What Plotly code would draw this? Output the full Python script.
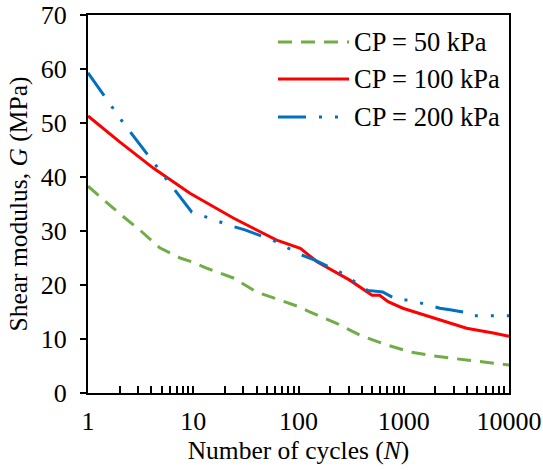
import plotly.graph_objects as go

# Shear modulus G (MPa) versus number of loading cycles N
n_50 = [1, 1.5, 2, 3.1, 4.8, 7.5, 10, 13.5, 24, 40, 62, 100, 128, 230, 385, 690, 1150, 2050, 3950, 7800, 10000]
g_50 = [38.3, 35.3, 33.2, 30.2, 26.9, 25.0, 24.2, 23.1, 21.3, 18.7, 17.4, 16.0, 15.0, 12.9, 10.7, 8.9, 7.6, 6.8, 6.1, 5.4, 5.2]

n_100 = [1, 2, 4.2, 9.3, 24, 62, 104, 150, 307, 500, 590, 710, 980, 1900, 3950, 7100, 10000]
g_100 = [51.3, 46.5, 41.6, 37.0, 32.4, 28.3, 26.8, 24.3, 20.9, 18.1, 18.1, 16.9, 15.7, 13.9, 12.0, 11.1, 10.5]

n_200 = [1, 1.45, 2.15, 3.9, 5.9, 9.7, 11.6, 22.4, 31, 57, 106, 143, 248, 455, 630, 880, 1150, 2200, 2750, 4240, 4500, 10000]
g_200 = [59.3, 54.9, 50.1, 43.5, 38.9, 33.5, 33.0, 31.0, 30.2, 28.3, 25.6, 24.6, 22.4, 19.0, 18.7, 17.2, 17.2, 15.7, 15.4, 14.8, 14.3, 14.3]

labels = ["CP = 50 kPa", "CP = 100 kPa", "CP = 200 kPa"]
colors = ["#70AD47", "#FF0000", "#0070C0"]
dashes = ["14px,9px", "solid", "28px,13px,3px,13px,3px,13px"]

x_ticks = [1, 10, 100, 1000, 10000]
x_minor = [m * d for d in (1, 10, 100, 1000) for m in range(2, 10)]
y_ticks = [0, 10, 20, 30, 40, 50, 60, 70]

FONT = "Liberation Serif, Times New Roman, serif"

fig = go.Figure()
for xs, ys, name, c, d in zip([n_50, n_100, n_200], [g_50, g_100, g_200], labels, colors, dashes):
    fig.add_trace(go.Scatter(x=xs, y=ys, mode="lines", name=name,
                             line=dict(color=c, width=3, dash=d), showlegend=False))

# Legend drawn in paper coordinates so the sample lines can be long
W, H = 543, 470
L, R, T, B = 88, 34, 15, 77
pw, ph = W - L - R, H - T - B

def px(x):
    return (x - L) / pw

def py(y):
    return (H - B - y) / ph

rows = [42, 79, 117]
for name, c, d, yy in zip(labels, colors, dashes, rows):
    fig.add_shape(type="line", xref="paper", yref="paper",
                  x0=px(278), x1=px(349), y0=py(yy), y1=py(yy),
                  line=dict(color=c, width=3, dash=d))
    fig.add_annotation(xref="paper", yref="paper", x=px(352), y=py(yy),
                       text=name, showarrow=False, xanchor="left", yanchor="middle",
                       font=dict(family=FONT, size=26.5, color="black"))

fig.update_layout(
    width=W, height=H,
    margin=dict(l=L, r=R, t=T, b=B),
    paper_bgcolor="white", plot_bgcolor="white",
    font=dict(family=FONT, size=26, color="black"),
    showlegend=False,
)
fig.update_xaxes(
    type="log", range=[0, 4], automargin=False,
    tickvals=x_ticks, ticktext=[str(v) for v in x_ticks],
    ticks="inside", ticklen=7, tickwidth=2, tickcolor="black",
    minor=dict(tickvals=x_minor, ticks="inside", ticklen=7, tickwidth=1.5,
               tickcolor="black", showgrid=False),
    showline=True, linewidth=2, linecolor="black", mirror=True,
    showgrid=False, zeroline=False,
    ticklabelstandoff=4,
    title=dict(text="Number of cycles (<i>N</i>)", standoff=2, font=dict(size=25.5)),
)
fig.update_yaxes(
    range=[0, 70], tickvals=y_ticks, automargin=False,
    ticks="outside", ticklen=6, tickwidth=2, tickcolor="black",
    showline=True, linewidth=2, linecolor="black", mirror=True,
    showgrid=False, zeroline=False,
    ticklabelstandoff=8,
    title=dict(text="Shear modulus, <i>G</i> (MPa)", standoff=6, font=dict(size=25.5)),
)

fig.write_html("out.html")
